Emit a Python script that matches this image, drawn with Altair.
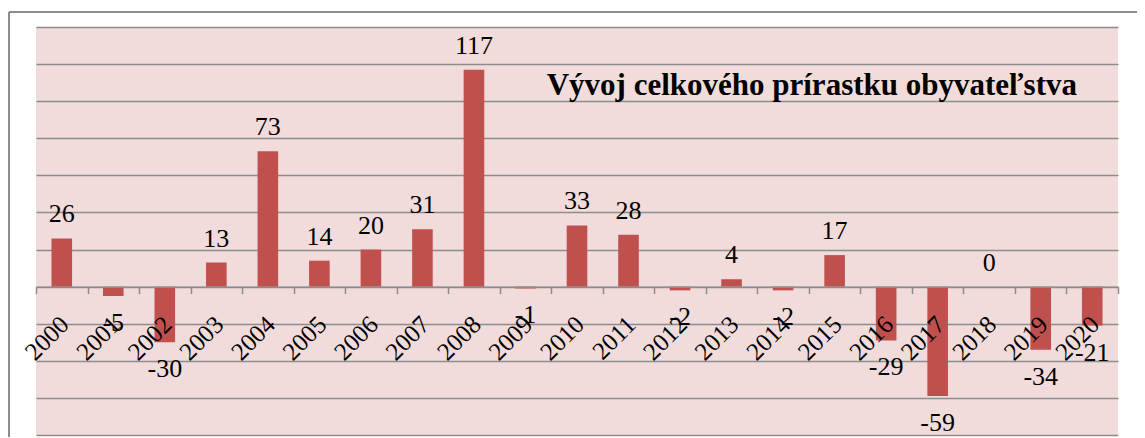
import altair as alt
import pandas as pd

years = [str(y) for y in range(2000, 2021)]
values = [26, -5, -30, 13, 73, 14, 20, 31, 117, -1, 33, 28, -2, 4, -2, 17, -29, -59, 0, -34, -21]
y_ticks = [-80, -60, -40, -20, 0, 20, 40, 60, 80, 100, 120, 140]
title_text = "Vývoj celkového prírastku obyvateľstva"

df = pd.DataFrame({"rok": years, "hodnota": values})

W, H = 1082, 408
FONT = "Liberation Serif"
ymin, ymax = -80, 140
zero_offset = -(H - H * ymax / (ymax - ymin))

x_enc = alt.X(
    "rok:N", sort=years,
    scale=alt.Scale(paddingInner=0, paddingOuter=0),
    axis=alt.Axis(
        title=None, labelAngle=-45, labelFont=FONT, labelFontSize=25,
        labelColor="black", labelPadding=18, labelOffset=-6,
        domainColor="#8c8c8c", domainWidth=1.5, tickColor="#8c8c8c",
        tickWidth=1.5, tickSize=7, tickBand="extent", offset=zero_offset,
        labelOverlap=False, zindex=1,
    ),
)
y_enc = alt.Y(
    "hodnota:Q",
    scale=alt.Scale(domain=[ymin, ymax], nice=False, zero=False),
    axis=alt.Axis(
        title=None, labels=False, ticks=False, domain=False, grid=True,
        gridColor="#8c8c8c", gridWidth=1.5, values=y_ticks,
    ),
)

base = alt.Chart(df).transform_calculate(txt="toString(datum.hodnota)")

bars = base.mark_bar(color="#c0504d", width=alt.RelativeBandSize(0.4)).encode(
    x=x_enc, y=y_enc, y2=alt.datum(0)
)

pos_labels = base.transform_filter("datum.hodnota >= 0").mark_text(
    font=FONT, fontSize=26, color="black", baseline="alphabetic", dy=-16
).encode(x=x_enc, y=y_enc, text="txt:N")

neg_labels = base.transform_filter("datum.hodnota < 0").mark_text(
    font=FONT, fontSize=26, color="black", baseline="top", dy=14
).encode(x=x_enc, y=y_enc, text="txt:N")

border_left = alt.Chart(df).mark_rule(color="#8c8c8c", strokeWidth=1.5).encode(
    x=alt.value(-27), y=alt.value(-15), y2=alt.value(430)
)
border_top = alt.Chart(df).mark_rule(color="#8c8c8c", strokeWidth=1.5).encode(
    x=alt.value(-27), x2=alt.value(1120), y=alt.value(-15)
)

chart = alt.layer(bars, pos_labels, neg_labels, border_left, border_top).properties(
    width=W, height=H,
    autosize=alt.AutoSizeParams(type="none"),
    padding={"left": 28, "top": 19, "right": 19, "bottom": 2},
    title=alt.TitleParams(
        title_text, font=FONT, fontSize=31, fontWeight="bold", color="black",
        anchor="end", orient="top", frame="group", dx=-41, dy=115,
        baseline="alphabetic", offset=0,
    ),
    background="white",
).configure_view(fill="#f2dcdb", stroke=None)

chart.save("out.html", embed_options={"renderer": "svg", "actions": False})
